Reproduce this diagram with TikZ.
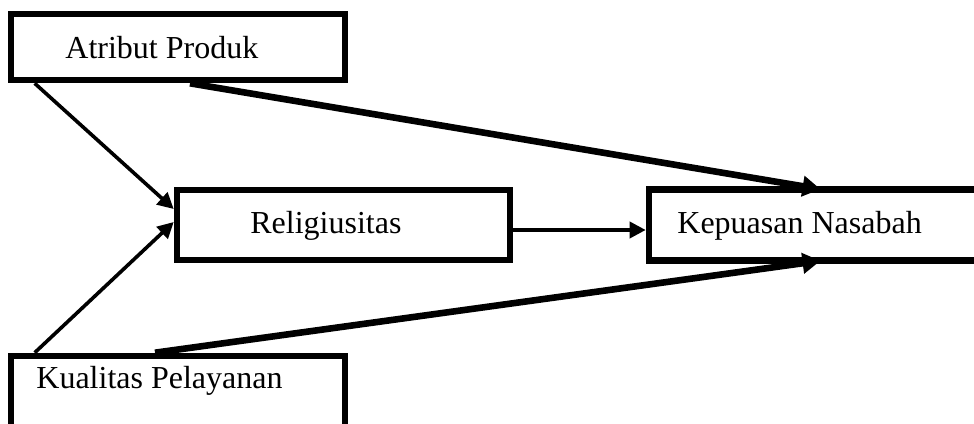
\documentclass[tikz,border=0pt]{standalone}
\usepackage{fontspec}
\setmainfont{Liberation Serif}
\usetikzlibrary{arrows.meta}
\begin{document}
\begin{tikzpicture}[x=0.5pt,y=-0.5pt,
  box/.style 2 args={draw, line width=3.3pt, inner sep=0pt, minimum width=#1, minimum height=#2},
  lbl/.style={anchor=base west, inner sep=0pt, font=\fontsize{16}{19}\selectfont},
  thinarrow/.style={line width=1.8pt, -{Triangle[length=8pt,width=8pt]}},
  thickarrow/.style={line width=3.3pt, -{Triangle[length=9pt,width=10pt]}}]
  \useasboundingbox (0,0) rectangle (974,423);
  \fill[white] (0,0) rectangle (974,423);
  \clip (0,0) rectangle (974,423);

  % boxes
  \node[box={167pt}{33pt}] (atr) at (178,47) {};
  \node[box={166.5pt}{35pt}] (rel) at (343.5,225) {};
  \node[box={175.5pt}{35.5pt}] (kep) at (824.5,225) {};
  \node[box={167pt}{47pt}] (kua) at (178,403) {};

  % labels
  \node[lbl] (atrtxt) at (65,58) {Atribut Produk};
  \node[lbl] (reltxt) at (250,233) {Religiusitas};
  \node[lbl] (keptxt) at (677,233) {Kepuasan Nasabah};
  \node[lbl] (kuatxt) at (36,388) {Kualitas Pelayanan};

  % paths
  \draw[thinarrow] ([xshift=13.5pt]atr.south west) -- ([yshift=8pt]rel.west);
  \draw[thinarrow] ([xshift=13.5pt]kua.north west) -- ([yshift=1.5pt]rel.west);
  \draw[thinarrow] ([yshift=-2.5pt]rel.east) -- ([yshift=-2.5pt]kep.west);
  \draw[thickarrow] ([xshift=6pt]atr.south) -- ([xshift=-2pt,yshift=-1.5pt]kep.north);
  \draw[thickarrow] ([xshift=-11.5pt]kua.north) -- ([xshift=-2pt,yshift=1.5pt]kep.south);
\end{tikzpicture}
\end{document}
